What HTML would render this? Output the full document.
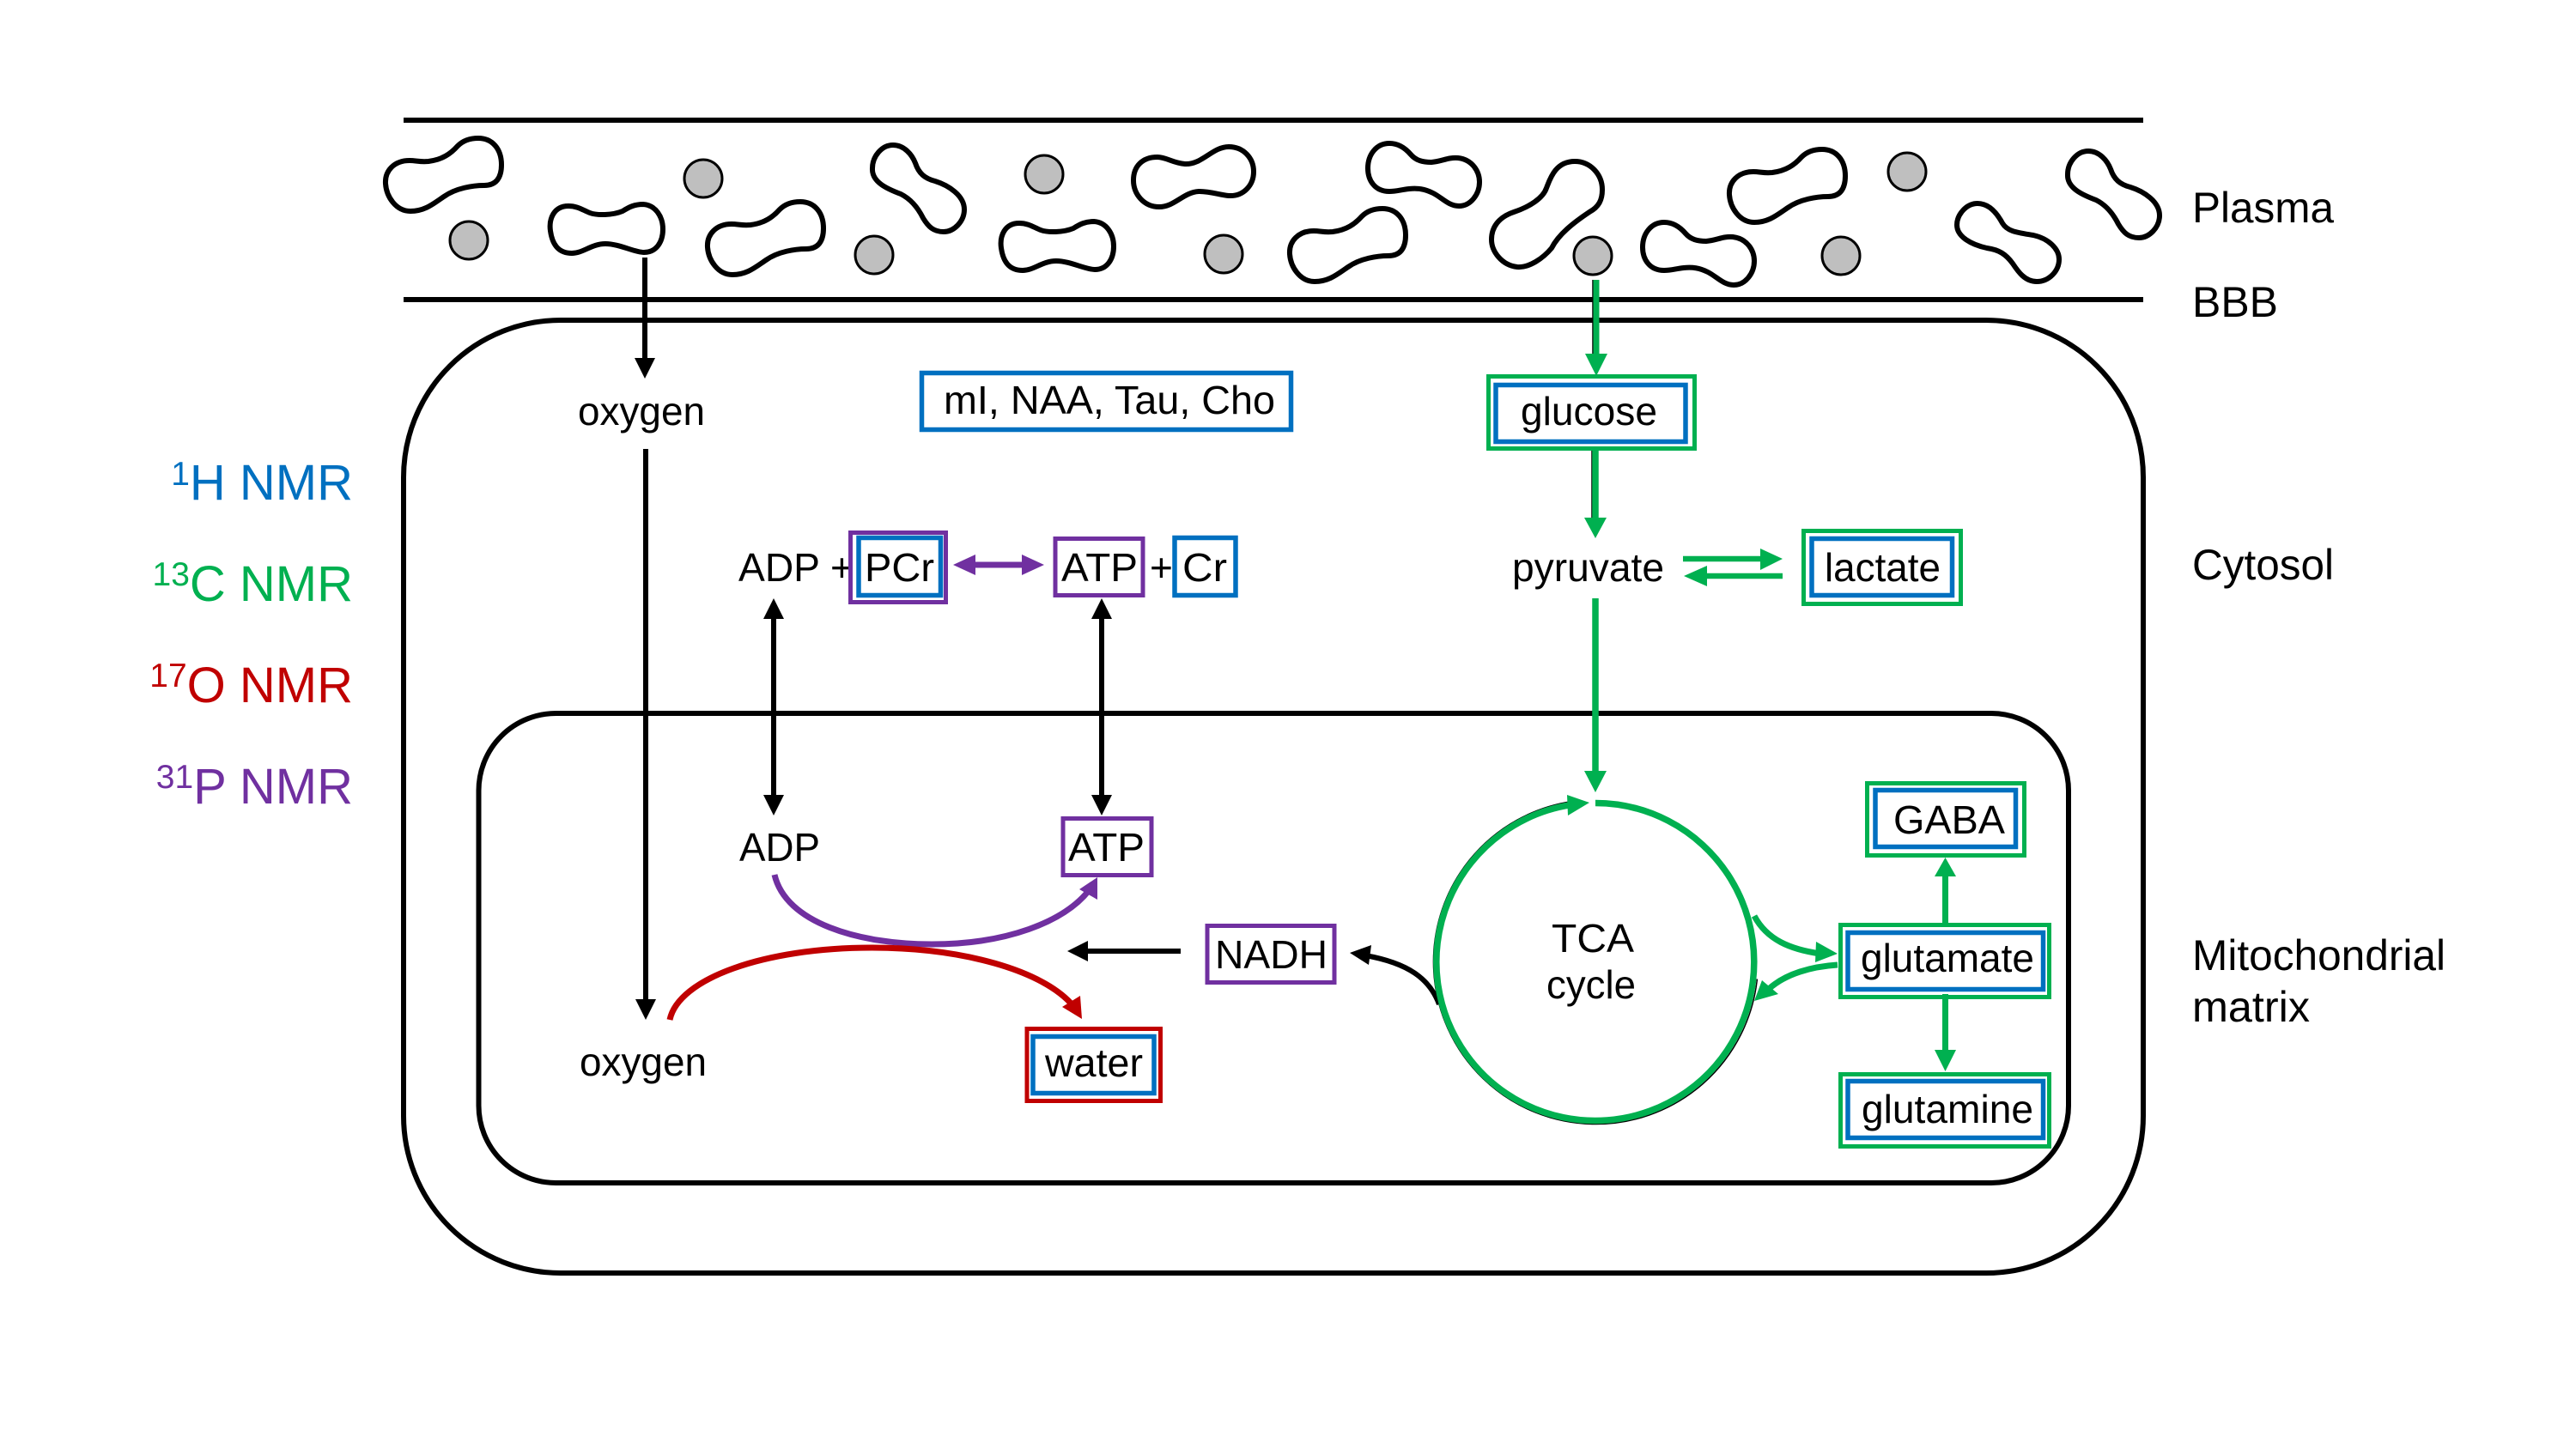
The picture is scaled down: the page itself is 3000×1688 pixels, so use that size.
<!DOCTYPE html>
<html><head><meta charset="utf-8"><style>
html,body{margin:0;padding:0;background:#fff}
svg{display:block}
text{font-family:"Liberation Sans",Arial,sans-serif;font-size:46px;fill:#000}
.l{font-size:50px}
.n{font-size:58px}
.n tspan.s{font-size:39px}
.b{fill:none;stroke:#000;stroke-width:6}
.blob{fill:#fff;stroke:#000;stroke-width:6}
.c{fill:#BFBFBF;stroke:#000;stroke-width:3}
.bl{fill:none;stroke:#0070C0;stroke-width:5.5}
.gr{fill:none;stroke:#00B050;stroke-width:5}
.pu{fill:none;stroke:#7030A0;stroke-width:5}
.re{fill:none;stroke:#C00000;stroke-width:5}
</style></head><body>
<svg width="3000" height="1688" viewBox="0 0 3000 1688" xmlns="http://www.w3.org/2000/svg">
<defs>
<path id="A" d="M110 2C126 2 137 14 137 33C137 48 131 57 117 57C104 57 84 60 70 70C58 78 48 87 31 87C14 87 3 70 2 55C1 40 12 28 30 28C38 28 42 30 52 29C68 27 78 20 86 11C92 5 100 2 110 2Z"/>
<path id="B" d="M25 3C36 3 42 8 50 11C58 14 76 14 88 9C96 4 102 1 112 1C127 2 135 16 135 30C135 44 128 57 113 57C102 57 84 47 68 47C52 47 42 58 29 58C12 58 6 46 4 32C2 18 8 3 25 3Z"/>
<path id="C" d="M27 1C40 1 49 12 53 22C57 34 64 40 76 43C92 48 110 60 110 76C110 90 98 102 86 102C74 102 68 96 62 86C56 74 48 64 36 58C20 52 2 44 3 28C3 14 14 1 27 1Z"/>
<path id="D" d="M27 1C38 1 46 7 52 14C58 21 66 23 76 23C88 22 96 17 107 18C124 20 132 34 132 46C132 60 122 74 108 74C96 74 88 64 78 59C68 54 60 53 50 54C40 55 36 57 27 57C10 57 2 44 2 30C2 14 12 1 27 1Z"/>
<path id="E" d="M99 1C117 1 131 16 131 34C131 46 127 54 116 60C98 72 80 86 72 102C62 114 46 125 32 124C14 122 2 106 2 92C2 78 10 66 28 60C46 54 62 44 66 32C70 22 76 1 99 1Z"/>
</defs>

<!-- membranes -->
<line x1="470" y1="140" x2="2496" y2="140" stroke="#000" stroke-width="6"/>
<line x1="470" y1="349" x2="2496" y2="349" stroke="#000" stroke-width="6"/>
<rect class="b" x="470" y="373" width="2026" height="1110" rx="183" ry="183"/>
<rect class="b" x="557.5" y="831" width="1851.5" height="547" rx="90" ry="90"/>

<!-- blood cells -->
<use class="blob" href="#A" x="447" y="159"/>
<use class="blob" href="#B" x="637" y="237"/>
<use class="blob" href="#A" x="822" y="233"/>
<use class="blob" href="#C" x="1013" y="168"/>
<use class="blob" href="#B" x="1162" y="257"/>
<path class="blob" d="M1348 183C1358 183 1366 190 1380 191C1400 192 1412 171 1431 171C1448 171 1460 184 1460 200C1460 216 1448 229 1431 228C1420 227 1410 223 1396 223C1378 224 1368 241 1350 241C1332 241 1320 226 1320 210C1320 194 1330 183 1348 183Z"/>
<use class="blob" href="#D" x="1591" y="166"/>
<use class="blob" href="#A" x="1500" y="241"/>
<use class="blob" href="#E" x="1735" y="187"/>
<use class="blob" href="#D" x="1911" y="258"/>
<use class="blob" href="#A" x="2012" y="172"/>
<path class="blob" d="M2303 237C2316 237 2325 247 2332 260C2338 270 2350 271 2368 274C2386 278 2398 290 2398 302C2398 316 2386 328 2372 328C2358 328 2350 316 2344 307C2336 296 2328 291 2314 289C2296 285 2279 276 2279 262C2279 250 2290 237 2303 237Z"/>
<use class="blob" href="#C" x="2405" y="175"/>
<circle class="c" cx="546" cy="280" r="22"/>
<circle class="c" cx="819" cy="208" r="22"/>
<circle class="c" cx="1018" cy="297" r="22"/>
<circle class="c" cx="1216" cy="203" r="22"/>
<circle class="c" cx="1425" cy="296" r="22"/>
<circle class="c" cx="1855" cy="298" r="22"/>
<circle class="c" cx="2144" cy="298" r="22"/>
<circle class="c" cx="2221" cy="200" r="22"/>

<!-- oxygen arrows -->
<line x1="751" y1="300" x2="751" y2="420" stroke="#000" stroke-width="6"/>
<polygon points="739,417 763,417 751,441"/>
<line x1="752" y1="523" x2="752" y2="1166" stroke="#000" stroke-width="6"/>
<polygon points="740,1164 764,1164 752,1188"/>
<text x="673" y="495" textLength="148" lengthAdjust="spacingAndGlyphs">oxygen</text>
<text x="675" y="1253" textLength="148" lengthAdjust="spacingAndGlyphs">oxygen</text>

<!-- mI box -->
<rect class="bl" x="1073.5" y="434.5" width="430" height="66"/>
<text x="1099" y="482" textLength="386" lengthAdjust="spacingAndGlyphs">mI, NAA, Tau, Cho</text>

<!-- ADP + PCr <-> ATP + Cr -->
<text x="860" y="677" textLength="95" lengthAdjust="spacingAndGlyphs">ADP</text>
<text x="967" y="677">+</text>
<rect class="pu" x="990.5" y="620.5" width="111" height="81"/>
<rect class="bl" x="1000" y="626.5" width="95.500" height="67"/>
<text x="1007" y="677" textLength="81" lengthAdjust="spacingAndGlyphs">PCr</text>
<line x1="1130" y1="658" x2="1196" y2="658" stroke="#7030A0" stroke-width="7"/>
<polygon fill="#7030A0" points="1110,658 1136,646 1136,670"/>
<polygon fill="#7030A0" points="1216,658 1190,646 1190,670"/>
<rect class="pu" x="1229" y="627.5" width="102" height="66"/>
<text x="1236" y="677" textLength="89" lengthAdjust="spacingAndGlyphs">ATP</text>
<text x="1339" y="677">+</text>
<rect class="bl" x="1368" y="626.5" width="71" height="67"/>
<text x="1377" y="677" textLength="52" lengthAdjust="spacingAndGlyphs">Cr</text>

<!-- vertical double arrows -->
<line x1="901" y1="715" x2="901" y2="932" stroke="#000" stroke-width="6"/>
<polygon points="889,721 913,721 901,697"/>
<polygon points="889,926 913,926 901,950"/>
<line x1="1283" y1="715" x2="1283" y2="932" stroke="#000" stroke-width="6"/>
<polygon points="1271,721 1295,721 1283,697"/>
<polygon points="1271,926 1295,926 1283,950"/>

<!-- ADP / ATP lower -->
<text x="861" y="1003" textLength="94" lengthAdjust="spacingAndGlyphs">ADP</text>
<rect class="pu" x="1238" y="953.5" width="103" height="66"/>
<text x="1244" y="1003" textLength="89" lengthAdjust="spacingAndGlyphs">ATP</text>

<!-- purple curve -->
<path d="M902 1019C915 1075 1000 1100 1085 1100C1170 1100 1240 1075 1270 1035" fill="none" stroke="#7030A0" stroke-width="7"/>
<polygon fill="#7030A0" points="1278,1022 1278,1048 1257,1036"/>

<!-- red curve -->
<path d="M780 1188C790 1140 890 1104 1015 1104C1120 1104 1215 1130 1250 1172" fill="none" stroke="#C00000" stroke-width="7"/>
<polygon fill="#C00000" points="1260,1187 1237,1173 1258,1160"/>

<!-- NADH -->
<line x1="1375" y1="1108" x2="1262" y2="1108" stroke="#000" stroke-width="6"/>
<polygon points="1243,1108 1267,1096 1267,1120"/>
<rect class="pu" x="1406" y="1078.5" width="148" height="66"/>
<text x="1415" y="1128" textLength="131" lengthAdjust="spacingAndGlyphs">NADH</text>
<path d="M1676 1170C1665 1140 1640 1122 1590 1113" fill="none" stroke="#000" stroke-width="6"/>
<polygon points="1572,1110 1597,1101 1594,1124"/>

<!-- water -->
<rect class="re" x="1196" y="1198.5" width="155.500" height="84"/>
<rect class="bl" x="1203" y="1207.500" width="141" height="66"/>
<text x="1217" y="1254" textLength="114" lengthAdjust="spacingAndGlyphs">water</text>

<!-- glucose / pyruvate / lactate -->
<line x1="1855" y1="326" x2="1855" y2="420" stroke="#000" stroke-width="1.500"/>
<line x1="1859" y1="326" x2="1859" y2="420" stroke="#00B050" stroke-width="7"/>
<polygon fill="#00B050" points="1846,412 1872,412 1859,438"/>
<rect class="gr" x="1733.500" y="438.500" width="240" height="84"/>
<rect class="bl" x="1742" y="448.500" width="221" height="66"/>
<text x="1771" y="495" textLength="159" lengthAdjust="spacingAndGlyphs">glucose</text>
<line x1="1854" y1="525" x2="1854" y2="605" stroke="#000" stroke-width="1.500"/>
<line x1="1858" y1="525" x2="1858" y2="610" stroke="#00B050" stroke-width="7.500"/>
<polygon fill="#00B050" points="1845,603 1871,603 1858,627"/>
<text x="1761" y="677" textLength="177" lengthAdjust="spacingAndGlyphs">pyruvate</text>
<line x1="1960" y1="651" x2="2056" y2="651" stroke="#00B050" stroke-width="6.500"/>
<polygon fill="#00B050" points="2076,651 2050,639 2050,664"/>
<line x1="2076" y1="671" x2="1982" y2="671" stroke="#00B050" stroke-width="6.500"/>
<polygon fill="#00B050" points="1961,671 1988,659 1988,683"/>
<rect class="gr" x="2100.500" y="618.500" width="183" height="85"/>
<rect class="bl" x="2110" y="627.500" width="163.500" height="66"/>
<text x="2125" y="677" textLength="135" lengthAdjust="spacingAndGlyphs">lactate</text>

<!-- to TCA -->
<line x1="1858" y1="697" x2="1858" y2="905" stroke="#00B050" stroke-width="7.500"/>
<polygon fill="#00B050" points="1845,898 1871,898 1858,923"/>

<!-- TCA cycle -->
<path d="M2046.400 1140.500A189 189 0 1 1 1830.500 933.600" fill="none" stroke="#000" stroke-width="1.500"/>
<path d="M1858 935.500A185 185 0 1 1 1830 937.600" fill="none" stroke="#00B050" stroke-width="7.500"/>
<polygon fill="#00B050" points="1851,935 1825,926 1826,950"/>
<text x="1807" y="1109" textLength="96" lengthAdjust="spacingAndGlyphs">TCA</text>
<text x="1801" y="1163" textLength="104" lengthAdjust="spacingAndGlyphs">cycle</text>

<!-- glutamate group -->
<path d="M2043 1067C2058 1095 2085 1106 2120 1111" fill="none" stroke="#00B050" stroke-width="7"/>
<polygon fill="#00B050" points="2140,1111 2115,1097 2114,1121"/>
<path d="M2140 1124C2110 1126 2080 1134 2060 1152" fill="none" stroke="#00B050" stroke-width="7"/>
<polygon fill="#00B050" points="2043,1166 2052,1142 2071,1158"/>

<line x1="2265.500" y1="1075" x2="2265.500" y2="1016" stroke="#00B050" stroke-width="7"/>
<polygon fill="#00B050" points="2253,1021 2278,1021 2265.500,999"/>
<line x1="2265.500" y1="1158" x2="2265.500" y2="1228" stroke="#00B050" stroke-width="7"/>
<polygon fill="#00B050" points="2253,1223 2278,1223 2265.500,1248"/>

<rect class="gr" x="2174.500" y="912.500" width="183" height="84"/>
<rect class="bl" x="2184" y="920.500" width="163.500" height="66"/>
<text x="2205" y="971" textLength="130" lengthAdjust="spacingAndGlyphs">GABA</text>

<rect class="gr" x="2143.500" y="1077.500" width="243" height="84"/>
<rect class="bl" x="2152" y="1086.500" width="227.500" height="66"/>
<text x="2167" y="1132" textLength="202" lengthAdjust="spacingAndGlyphs">glutamate</text>

<rect class="gr" x="2143.500" y="1251.500" width="243" height="84"/>
<rect class="bl" x="2152" y="1259.500" width="227.500" height="66"/>
<text x="2168" y="1308" textLength="200" lengthAdjust="spacingAndGlyphs">glutamine</text>

<!-- right labels -->
<text class="l" x="2553" y="259" textLength="165" lengthAdjust="spacingAndGlyphs">Plasma</text>
<text class="l" x="2553" y="369" textLength="100" lengthAdjust="spacingAndGlyphs">BBB</text>
<text class="l" x="2553" y="675" textLength="165" lengthAdjust="spacingAndGlyphs">Cytosol</text>
<text class="l" x="2553" y="1130" textLength="295" lengthAdjust="spacingAndGlyphs">Mitochondrial</text>
<text class="l" x="2553" y="1190" textLength="137" lengthAdjust="spacingAndGlyphs">matrix</text>

<!-- left legend -->
<text class="n" x="411" y="582" text-anchor="end" style="fill:#0070C0"><tspan class="s" dy="-17" style="fill:#0070C0">1</tspan><tspan dy="17" style="fill:#0070C0">H NMR</tspan></text>
<text class="n" x="411" y="700" text-anchor="end" style="fill:#00B050"><tspan class="s" dy="-18" style="fill:#00B050">13</tspan><tspan dy="18" style="fill:#00B050">C NMR</tspan></text>
<text class="n" x="411" y="818" text-anchor="end" style="fill:#C00000"><tspan class="s" dy="-18" style="fill:#C00000">17</tspan><tspan dy="18" style="fill:#C00000">O NMR</tspan></text>
<text class="n" x="411" y="936" text-anchor="end" style="fill:#7030A0"><tspan class="s" dy="-18" style="fill:#7030A0">31</tspan><tspan dy="18" style="fill:#7030A0">P NMR</tspan></text>
</svg>
</body></html>
